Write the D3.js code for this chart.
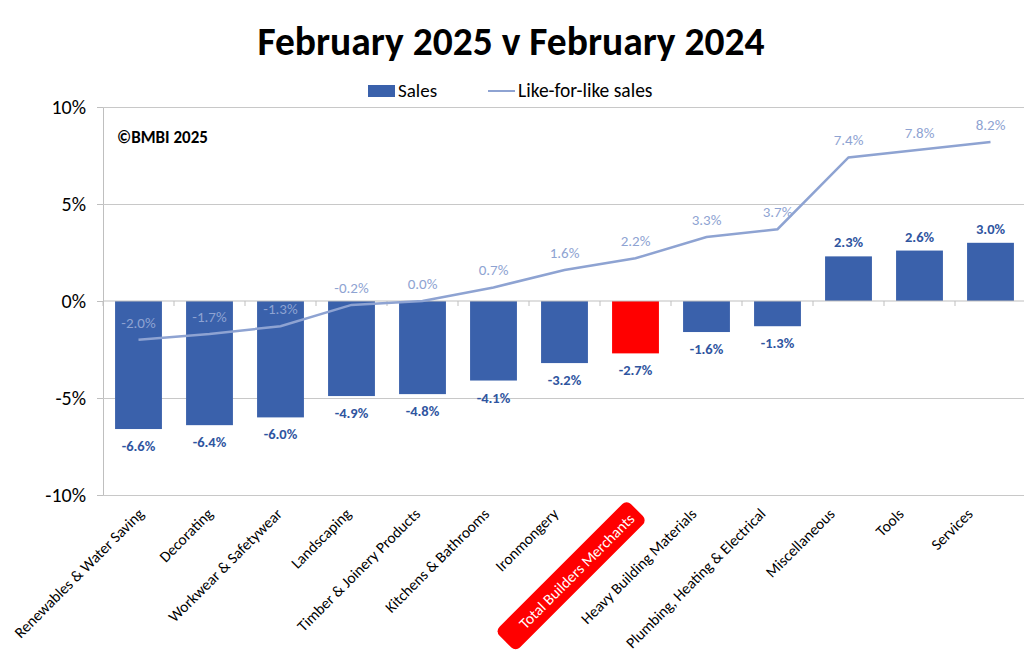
<!DOCTYPE html>
<html>
<head>
<meta charset="utf-8">
<script src="https://cdn.jsdelivr.net/npm/d3@7"></script>
<style>
  body { margin: 0; background: #fff; overflow: hidden; }
  text { font-family: Carlito, Lato, "Open Sans", sans-serif; }
</style>
</head>
<body>
<div id="chart"></div>
<script>
const categories = [
  'Renewables & Water Saving', 'Decorating', 'Workwear & Safetywear', 'Landscaping',
  'Timber & Joinery Products', 'Kitchens & Bathrooms', 'Ironmongery', 'Total Builders Merchants',
  'Heavy Building Materials', 'Plumbing, Heating & Electrical', 'Miscellaneous', 'Tools', 'Services'
];
const sales = [-6.6, -6.4, -6.0, -4.9, -4.8, -4.1, -3.2, -2.7, -1.6, -1.3, 2.3, 2.6, 3.0];
const lfl = [-2.0, -1.7, -1.3, -0.2, 0.0, 0.7, 1.6, 2.2, 3.3, 3.7, 7.4, 7.8, 8.2];
const yTicks = [-10, -5, 0, 5, 10];
const highlight = 'Total Builders Merchants';

const w = 1024;
const h = 668;
const plotLeft = 103, plotRight = 1026, plotTop = 107, plotBottom = 495;

const barBlue = '#3a61ab';
const lineBlue = '#8ea3d2';
const labelBlue = '#2f55a0';

const svg = d3.select('#chart')
  .append('svg')
  .attr('width', w)
  .attr('height', h);

const x = d3.scaleBand(categories, [plotLeft, plotRight]).paddingInner(0.34).paddingOuter(0.17);
const xBand = d3.scaleBand(categories, [plotLeft, plotRight]);
const xLabel = d3.scalePoint(categories, [141, 970]);
const y = d3.scaleLinear([-10, 10], [plotBottom, plotTop]);

// title
svg.append('text')
  .text('February 2025 v February 2024')
  .attr('x', 511)
  .attr('y', 55)
  .attr('text-anchor', 'middle')
  .attr('font-size', 39.5)
  .attr('font-weight', 'bold')
  .attr('fill', '#000');

// legend
svg.append('rect')
  .attr('x', 368).attr('y', 85).attr('width', 27).attr('height', 12)
  .attr('fill', barBlue);
svg.append('text').text('Sales')
  .attr('x', 398).attr('y', 97).attr('font-size', 19).attr('fill', '#000');
svg.append('line')
  .attr('x1', 488).attr('x2', 515).attr('y1', 91).attr('y2', 91)
  .attr('stroke', lineBlue).attr('stroke-width', 2);
svg.append('text').text('Like-for-like sales')
  .attr('x', 518).attr('y', 97).attr('font-size', 19.5).attr('fill', '#000');

// y axis + grid
const yAxis = d3.axisLeft(y)
  .tickValues(yTicks)
  .tickSize(6)
  .tickFormat(d => d + '%');

svg.append('g')
  .attr('transform', 'translate(' + plotLeft + ',0)')
  .call(yAxis)
  .call(g => g.select('.domain').attr('stroke', '#bfbfbf'))
  .call(g => g.selectAll('.tick line').attr('stroke', '#bfbfbf'))
  .call(g => g.selectAll('.tick text')
    .attr('font-size', 20)
    .attr('fill', '#000')
    .attr('x', -17))
  .call(g => g.selectAll('.tick').filter(d => d !== 0).append('line')
    .attr('x2', plotRight - plotLeft)
    .attr('stroke', '#c8c8c8'));

// bars
svg.append('g')
  .selectAll('rect')
  .data(categories)
  .join('rect')
  .attr('x', d => x(d))
  .attr('width', x.bandwidth())
  .attr('y', (d, i) => y(Math.max(0, sales[i])))
  .attr('height', (d, i) => Math.abs(y(sales[i]) - y(0)))
  .attr('fill', d => d === highlight ? '#ff0000' : barBlue);

// zero axis with category ticks
svg.append('line')
  .attr('x1', plotLeft).attr('x2', plotRight)
  .attr('y1', y(0)).attr('y2', y(0))
  .attr('stroke', '#bfbfbf');
svg.append('g')
  .selectAll('line')
  .data(categories)
  .join('line')
  .attr('x1', d => xBand(d))
  .attr('x2', d => xBand(d))
  .attr('y1', y(0))
  .attr('y2', y(0) + 5)
  .attr('stroke', '#bfbfbf');

// bar labels
svg.append('g')
  .selectAll('text')
  .data(categories)
  .join('text')
  .attr('x', d => x(d) + x.bandwidth() / 2)
  .attr('y', (d, i) => sales[i] < 0 ? y(sales[i]) + 22 : y(sales[i]) - 9)
  .attr('text-anchor', 'middle')
  .attr('font-size', 14.5)
  .attr('font-weight', 'bold')
  .attr('fill', labelBlue)
  .text((d, i) => sales[i].toFixed(1) + '%');

// like-for-like line
const line = d3.line()
  .x(d => xBand(d.c) + xBand.bandwidth() / 2)
  .y(d => y(d.v));
const lflData = categories.map((c, i) => ({ c: c, v: lfl[i] }));

svg.append('path')
  .attr('d', line(lflData))
  .attr('fill', 'none')
  .attr('stroke', lineBlue)
  .attr('stroke-width', 2.5);

svg.append('g')
  .selectAll('text')
  .data(lflData)
  .join('text')
  .attr('x', d => xBand(d.c) + xBand.bandwidth() / 2)
  .attr('y', d => y(d.v) - 12)
  .attr('text-anchor', 'middle')
  .attr('font-size', 15)
  .attr('fill', lineBlue)
  .text(d => d.v.toFixed(1) + '%');

// copyright
svg.append('text')
  .text('©BMBI 2025')
  .attr('x', 117).attr('y', 143)
  .attr('font-size', 17)
  .attr('font-weight', 'bold')
  .attr('fill', '#000');

// category labels (the highlighted one sits in its own red badge, nudged a bit)
const cats = svg.append('g')
  .selectAll('g')
  .data(categories)
  .join('g')
  .attr('transform', d => {
    const dx = d === highlight ? 7 : 0;
    const dy = d === highlight ? 5 : 0;
    return 'translate(' + (xLabel(d) + dx) + ',' + (plotBottom + 16 + dy) + ') rotate(-45)';
  });

cats.filter(d => d === highlight)
  .append('rect')
  .attr('x', -178)
  .attr('y', -15)
  .attr('width', 186)
  .attr('height', 29)
  .attr('rx', 6)
  .attr('fill', '#ff0000');

cats.append('text')
  .attr('text-anchor', 'end')
  .attr('dy', '0.35em')
  .attr('font-size', 15.5)
  .attr('fill', d => d === highlight ? '#fff' : '#000')
  .text(d => d);
</script>
</body>
</html>
